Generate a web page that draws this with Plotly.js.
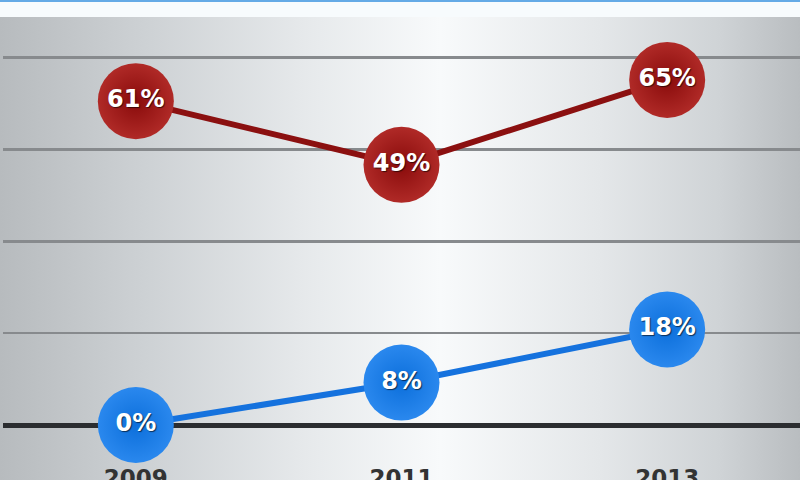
<!DOCTYPE html>
<html>
<head>
<meta charset="utf-8">
<script src="https://cdn.plot.ly/plotly-3.0.1.min.js"></script>
<style>
html,body{margin:0;padding:0;}
#chart{width:800px;height:480px;
background:
 linear-gradient(to bottom,#64aae6 0px,#64aae6 2px,#f7fbfd 2px,#f7fbfd 17px,rgba(0,0,0,0) 17px),
 linear-gradient(to right,#b7bbbe 0%,#cdd1d4 18%,#e6e9eb 38%,#f8fafb 55%,#e4e7e9 75%,#cfd3d6 90%,#b9bdc0 100%);}
</style>
</head>
<body>
<div id="chart"></div>
<script>
var years = [2009, 2011, 2013];
var tickLabels = ["2009", "2011", "2013"];
var redValues = [61, 49, 65];
var blueValues = [0, 8, 18];

function pct(v){ return v.map(function(x){ return x + "%"; }); }

var labelFont = {family: "DejaVu Sans", size: 24, color: "#ffffff", weight: "bold",
                 shadow: "1px 1px 1px rgba(0,0,0,0.6)"};

var traces = [
  {x: years, y: redValues, type: "scatter", mode: "lines+markers+text",
   text: pct(redValues), textposition: "middle center", textfont: labelFont,
   line: {color: "#8b1010", width: 6},
   marker: {size: 76, color: "#b02a27", gradient: {type: "radial", color: "#890b0b"},
            line: {width: 0}},
   cliponaxis: false, hoverinfo: "none"},
  {x: years, y: blueValues, type: "scatter", mode: "lines+markers+text",
   text: pct(blueValues), textposition: "middle center", textfont: labelFont,
   line: {color: "#1572de", width: 6},
   marker: {size: 76, color: "#2a88ee", gradient: {type: "radial", color: "#0c6fdb"},
            line: {width: 0}},
   cliponaxis: false, hoverinfo: "none"}
];

var layout = {
  width: 800, height: 480,
  margin: {l: 3, r: 0, t: 17, b: 25, pad: 0},
  paper_bgcolor: "rgba(0,0,0,0)",
  plot_bgcolor: "rgba(0,0,0,0)",
  showlegend: false,
  xaxis: {range: [2008, 2014], tickvals: years, ticktext: tickLabels,
          showgrid: false, zeroline: false, showline: false,
          ticks: "outside", ticklen: 2, tickcolor: "rgba(0,0,0,0)",
          tickfont: {family: "DejaVu Sans", size: 23, color: "#333333", weight: "bold"},
          automargin: false, fixedrange: true},
  yaxis: {range: [-5.65, 76.85], tick0: 0, dtick: 17.3,
          showticklabels: false, showgrid: true, gridcolor: "#878a8d", gridwidth: 2.5,
          zeroline: true, zerolinecolor: "#2b2d30", zerolinewidth: 5,
          showline: false, ticks: "", automargin: false, fixedrange: true}
};

Plotly.newPlot("chart", traces, layout, {displayModeBar: false, staticPlot: true});
</script>
</body>
</html>
